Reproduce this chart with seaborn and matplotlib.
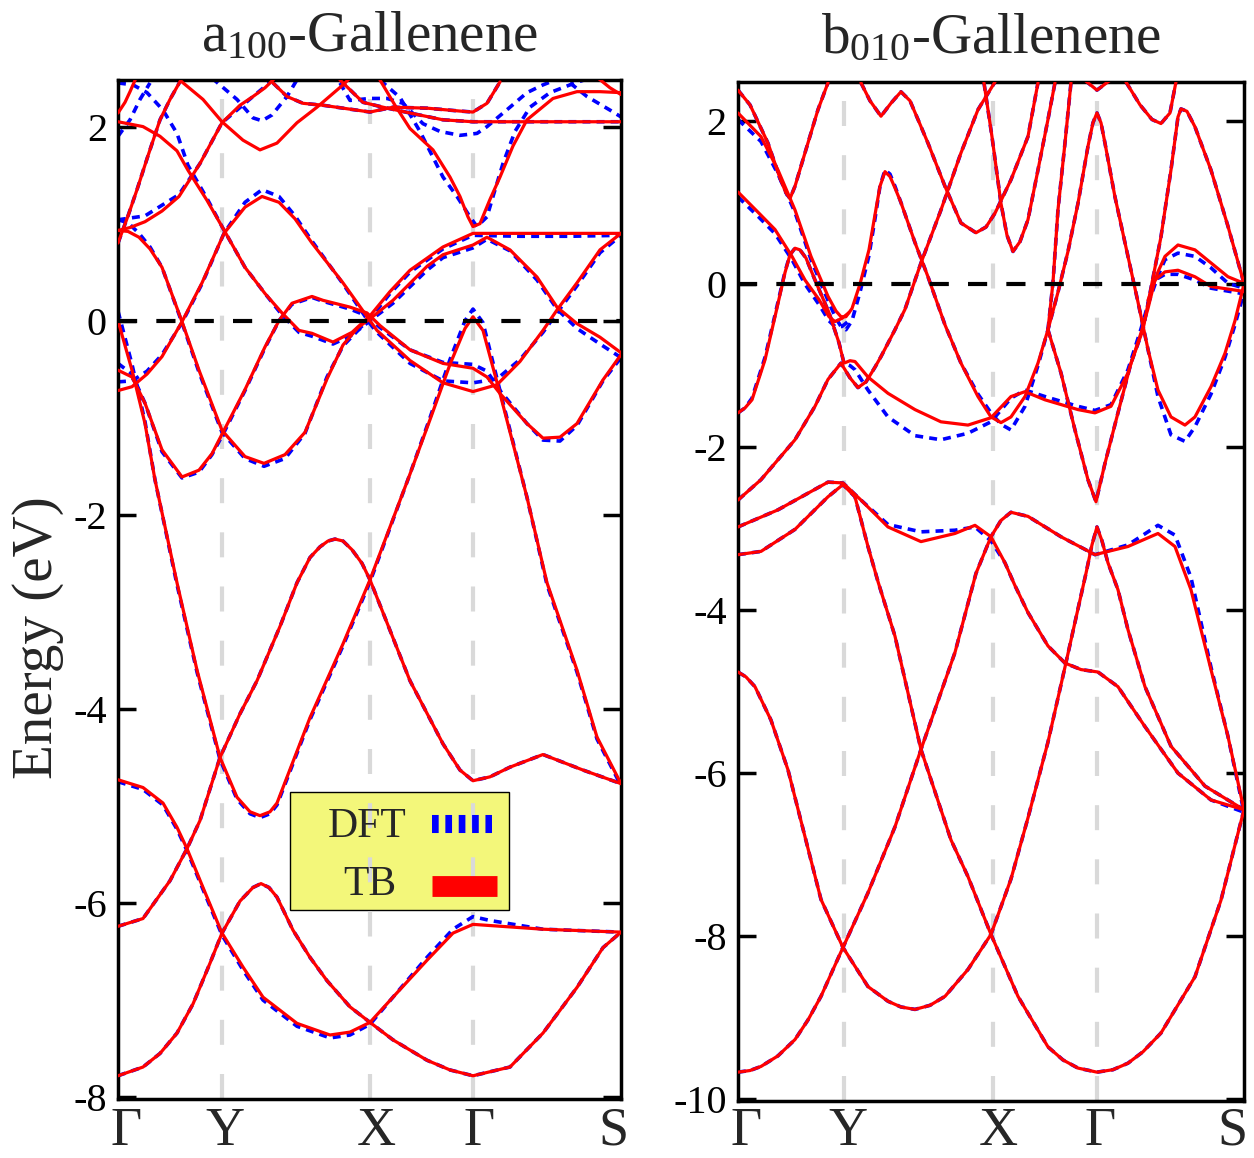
import pandas as pd
import matplotlib
matplotlib.use("Agg")
import matplotlib.pyplot as plt
import matplotlib.transforms as mtransforms
from matplotlib.patches import Rectangle
import seaborn as sns

# ---------------- k-path ----------------
A_KPTS = [0.0, 1.04, 2.52, 3.55, 5.03]
B_KPTS = [0.0, 1.06, 2.55, 3.59, 5.06]
KLABELS = ["Γ", "Y", "X", "Γ", "S"]
A_YTICKS = [-8, -6, -4, -2, 0, 2]
B_YTICKS = [-10, -8, -6, -4, -2, 0, 2]

# ---------------- a100-Gallenene, TB bands (k, E in eV) ----------------
a_tb_01 = [(0.00,-7.78),(0.25,-7.69),(0.42,-7.55),(0.59,-7.34),(0.75,-7.04),(0.92,-6.62),(1.04,-6.31),(1.22,-5.98),(1.35,-5.84),(1.43,-5.80),(1.51,-5.84),(1.59,-5.94),(1.75,-6.28),(1.92,-6.56),(2.09,-6.80),(2.32,-7.07),(2.52,-7.23),(2.75,-7.41),(3.09,-7.62),(3.32,-7.72),(3.55,-7.78),(3.92,-7.69),(4.25,-7.34),(4.59,-6.87),(4.85,-6.46),(5.03,-6.30)]
a_tb_02 = [(0.00,-4.73),(0.25,-4.81),(0.45,-4.97),(0.59,-5.22),(0.69,-5.44),(0.85,-5.84),(1.04,-6.31),(1.25,-6.66),(1.45,-6.97),(1.79,-7.24),(2.12,-7.36),(2.32,-7.33),(2.52,-7.23),(2.75,-6.97),(3.09,-6.59),(3.35,-6.31),(3.55,-6.22),(4.25,-6.27),(5.03,-6.30)]
a_tb_03 = [(0.00,-6.24),(0.25,-6.16),(0.52,-5.77),(0.69,-5.44),(0.82,-5.15),(1.02,-4.50),(1.22,-4.05),(1.39,-3.71),(1.62,-3.15),(1.79,-2.70),(1.92,-2.44),(2.02,-2.33),(2.10,-2.27),(2.17,-2.25),(2.25,-2.27),(2.34,-2.36),(2.44,-2.50),(2.52,-2.67),(2.72,-3.19),(2.92,-3.71),(3.25,-4.36),(3.42,-4.63),(3.55,-4.74),(3.72,-4.70),(3.92,-4.60),(4.25,-4.47),(4.65,-4.63),(5.03,-4.77)]
a_tb_04 = [(0.00,0.00),(0.14,-0.51),(0.27,-1.06),(0.37,-1.64),(0.48,-2.17),(0.59,-2.70),(0.79,-3.60),(1.02,-4.50),(1.19,-4.91),(1.32,-5.06),(1.42,-5.10),(1.52,-5.06),(1.59,-4.97),(1.92,-4.09),(2.25,-3.33),(2.52,-2.67),(2.92,-1.58),(3.12,-1.02),(3.32,-0.45),(3.47,-0.08),(3.55,0.04),(3.65,-0.10),(3.82,-0.75),(4.09,-1.82),(4.29,-2.70),(4.59,-3.60),(4.79,-4.29),(5.03,-4.77)]
a_tb_05 = [(0.00,0.93),(0.10,0.92),(0.21,0.86),(0.32,0.74),(0.44,0.55),(0.64,-0.01),(0.81,-0.51),(1.04,-1.13),(1.27,-1.40),(1.46,-1.47),(1.67,-1.38),(1.87,-1.15),(2.09,-0.60),(2.25,-0.25),(2.40,-0.07),(2.52,0.02),(2.75,0.21),(3.09,0.56),(3.25,0.68),(3.55,0.78),(3.69,0.86),(3.92,0.73),(4.19,0.45),(4.39,0.14),(4.59,-0.03),(4.82,-0.17),(5.03,-0.33)]
a_tb_06 = [(0.00,-0.72),(0.14,-0.68),(0.29,-0.55),(0.44,-0.37),(0.64,-0.01),(0.84,0.39),(1.06,0.90),(1.27,1.17),(1.44,1.28),(1.61,1.22),(1.77,1.05),(1.94,0.80),(2.25,0.39),(2.52,0.00),(2.59,-0.10),(2.92,-0.41),(3.25,-0.64),(3.55,-0.73),(3.79,-0.66),(4.02,-0.42),(4.25,-0.10),(4.39,0.11),(4.59,0.39),(4.82,0.73),(5.03,0.90)]
a_tb_07 = [(0.00,-0.51),(0.14,-0.58),(0.27,-0.85),(0.44,-1.33),(0.64,-1.61),(0.81,-1.54),(0.94,-1.37),(1.06,-1.13),(1.27,-0.71),(1.47,-0.27),(1.61,0.00),(1.74,0.18),(1.94,0.25),(2.05,0.21),(2.32,0.14),(2.49,0.08),(2.62,-0.05),(2.92,-0.30),(3.25,-0.44),(3.55,-0.49),(3.69,-0.58),(3.82,-0.75),(4.09,-1.06),(4.25,-1.21),(4.42,-1.20),(4.59,-1.06),(4.85,-0.61),(5.03,-0.35)]
a_tb_08 = [(0.00,2.05),(0.25,2.00),(0.42,1.90),(0.59,1.75),(0.70,1.55),(0.89,1.24),(1.04,0.97),(1.27,0.55),(1.47,0.28),(1.64,0.08),(1.81,-0.10),(1.94,-0.13),(2.15,-0.22),(2.34,-0.12),(2.52,0.05),(2.72,0.30),(2.92,0.52),(3.25,0.76),(3.55,0.90),(4.02,0.90),(4.52,0.90),(5.03,0.90)]
a_tb_09 = [(0.00,0.93),(0.12,0.96),(0.27,1.02),(0.44,1.13),(0.61,1.28),(0.82,1.62),(1.04,2.04),(1.22,2.22),(1.35,2.31),(1.47,2.40),(1.57,2.50)]
a_tb_10 = [(0.00,0.80),(0.10,1.08),(0.19,1.35),(0.30,1.70),(0.42,2.07),(0.52,2.28),(0.64,2.50)]
a_tb_11 = [(0.00,2.14),(0.07,2.25),(0.12,2.36),(0.18,2.50)]
a_tb_12 = [(0.64,2.46),(0.85,2.28),(1.04,2.05),(1.25,1.86),(1.42,1.76),(1.59,1.83),(1.79,2.04),(1.99,2.20),(2.25,2.43),(2.32,2.50)]
a_tb_13 = [(1.55,2.45),(1.69,2.31),(1.85,2.24),(2.05,2.22),(2.25,2.19),(2.52,2.15),(2.75,2.20),(3.09,2.19),(3.42,2.16),(3.55,2.15),(3.69,2.24),(3.82,2.46)]
a_tb_14 = [(2.22,2.48),(2.45,2.25),(2.65,2.20),(2.92,2.14),(3.25,2.07),(3.55,2.05),(4.22,2.05),(5.03,2.05)]
a_tb_15 = [(2.62,2.48),(2.77,2.22),(2.92,1.98),(3.15,1.76),(3.32,1.48),(3.42,1.28),(3.50,1.07),(3.55,0.97),(3.62,1.00),(3.72,1.25),(3.82,1.48),(3.95,1.80),(4.09,2.07),(4.35,2.29),(4.59,2.36),(4.82,2.36),(5.03,2.35)]
a_tb_16 = [(4.80,2.50),(4.92,2.40),(5.03,2.33)]

# ---------------- a100-Gallenene, DFT bands ----------------
a_dft_02 = [(0.00,-4.75),(0.25,-4.83),(0.45,-4.99),(0.59,-5.24),(0.69,-5.46),(0.85,-5.86),(1.04,-6.33),(1.25,-6.69),(1.45,-7.00),(1.79,-7.27),(2.12,-7.39),(2.32,-7.36),(2.52,-7.25),(2.75,-6.97),(3.09,-6.56),(3.35,-6.27),(3.55,-6.14),(3.72,-6.18),(4.25,-6.27),(5.03,-6.30)]
a_dft_04 = [(0.00,0.10),(0.14,-0.45),(0.27,-1.04),(0.37,-1.64),(0.48,-2.18),(0.59,-2.72),(0.79,-3.62),(1.02,-4.52),(1.19,-4.93),(1.32,-5.08),(1.42,-5.12),(1.52,-5.08),(1.59,-4.99),(1.92,-4.11),(2.25,-3.35),(2.52,-2.69),(2.92,-1.58),(3.12,-1.00),(3.32,-0.40),(3.47,0.00),(3.55,0.12),(3.65,-0.02),(3.82,-0.72),(4.09,-1.82),(4.29,-2.72),(4.59,-3.62),(4.79,-4.31),(5.03,-4.79)]
a_dft_05 = [(0.00,1.04),(0.10,1.01),(0.21,0.90),(0.32,0.76),(0.44,0.55),(0.64,-0.02),(0.81,-0.53),(1.04,-1.15),(1.27,-1.42),(1.46,-1.50),(1.67,-1.42),(1.87,-1.16),(2.09,-0.58),(2.25,-0.26),(2.40,-0.10),(2.52,0.00),(2.75,0.18),(3.09,0.52),(3.25,0.65),(3.55,0.75),(3.69,0.84),(3.92,0.72),(4.19,0.42),(4.39,0.12),(4.59,-0.08),(4.82,-0.24),(5.03,-0.38)]
a_dft_06 = [(0.00,-0.63),(0.14,-0.62),(0.29,-0.52),(0.44,-0.35),(0.64,-0.02),(0.84,0.38),(1.06,0.90),(1.27,1.22),(1.44,1.35),(1.61,1.28),(1.77,1.08),(1.94,0.82),(2.25,0.38),(2.52,-0.03),(2.59,-0.12),(2.92,-0.44),(3.25,-0.62),(3.55,-0.64),(3.79,-0.60),(4.02,-0.40),(4.25,-0.12),(4.39,0.08),(4.59,0.36),(4.82,0.70),(5.03,0.88)]
a_dft_07 = [(0.00,-0.44),(0.14,-0.55),(0.27,-0.85),(0.44,-1.35),(0.64,-1.62),(0.81,-1.56),(0.94,-1.38),(1.06,-1.15),(1.27,-0.72),(1.47,-0.28),(1.61,0.00),(1.74,0.17),(1.94,0.24),(2.05,0.20),(2.32,0.12),(2.49,0.05),(2.62,-0.07),(2.92,-0.30),(3.25,-0.43),(3.55,-0.45),(3.69,-0.52),(3.82,-0.72),(4.09,-1.06),(4.25,-1.23),(4.42,-1.24),(4.59,-1.08),(4.85,-0.62),(5.03,-0.38)]
a_dft_08 = [(0.00,2.45),(0.15,2.43),(0.29,2.35),(0.45,2.17),(0.59,1.93),(0.70,1.60),(0.89,1.26),(1.04,0.97),(1.27,0.55),(1.47,0.28),(1.64,0.06),(1.81,-0.12),(1.94,-0.16),(2.15,-0.24),(2.34,-0.15),(2.52,0.02),(2.72,0.28),(2.92,0.50),(3.25,0.74),(3.55,0.88),(4.02,0.87),(4.52,0.87),(5.03,0.88)]
a_dft_09 = [(0.00,1.04),(0.27,1.08),(0.61,1.30),(0.82,1.62),(1.04,2.04),(1.35,2.31),(1.57,2.50)]
a_dft_11 = [(0.00,1.90),(0.12,2.07),(0.22,2.28),(0.32,2.45)]
a_dft_12 = [(0.94,2.50),(1.19,2.28),(1.35,2.09),(1.44,2.06),(1.54,2.12),(1.69,2.31),(1.80,2.50)]
a_dft_15 = [(2.62,2.48),(2.82,2.30),(3.02,1.95),(3.25,1.48),(3.39,1.28),(3.52,1.07),(3.59,0.97),(3.69,1.07),(3.75,1.28),(3.85,1.62),(3.97,1.95),(4.12,2.20),(4.32,2.35),(4.57,2.45),(4.72,2.50)]
a_dft_17 = [(2.22,2.45),(2.32,2.27),(2.52,2.29),(2.69,2.29),(2.85,2.24),(3.05,2.03),(3.22,1.95),(3.42,1.91),(3.59,1.93),(3.69,2.00),(3.92,2.20),(4.09,2.35),(4.25,2.43),(4.42,2.50)]
a_dft_18 = [(4.52,2.45),(4.69,2.31),(4.92,2.17),(5.03,2.10)]

# ---------------- b010-Gallenene, TB bands ----------------
b_tb_01 = [(0.00,-9.67),(0.12,-9.65),(0.23,-9.60),(0.40,-9.47),(0.57,-9.27),(0.70,-9.03),(0.83,-8.74),(1.05,-8.14),(1.30,-7.47),(1.57,-6.66),(1.83,-5.71),(2.17,-4.52),(2.38,-3.55),(2.53,-3.10),(2.63,-2.90),(2.73,-2.80),(2.90,-2.85),(3.23,-3.10),(3.57,-3.32),(3.90,-3.22),(4.20,-3.06),(4.37,-3.22),(4.53,-3.75),(4.73,-4.73),(4.90,-5.55),(5.06,-6.45)]
b_tb_02 = [(0.00,-4.76),(0.08,-4.82),(0.17,-4.94),(0.33,-5.35),(0.50,-5.96),(0.67,-6.78),(0.83,-7.55),(1.05,-8.14),(1.30,-8.62),(1.50,-8.80),(1.63,-8.87),(1.77,-8.90),(1.92,-8.85),(2.07,-8.74),(2.30,-8.41),(2.53,-7.98),(2.73,-7.30),(2.90,-6.55),(3.10,-5.62),(3.27,-4.70),(3.37,-4.15),(3.48,-3.55),(3.54,-3.20),(3.59,-2.98),(3.64,-3.15),(3.70,-3.42),(3.80,-3.75),(3.90,-4.24),(4.07,-4.94),(4.33,-5.67),(4.67,-6.16),(5.06,-6.45)]
b_tb_03 = [(0.00,-3.32),(0.23,-3.28),(0.57,-3.01),(0.90,-2.61),(1.05,-2.46),(1.17,-2.61),(1.30,-3.22),(1.40,-3.65),(1.57,-4.32),(1.83,-5.71),(2.13,-6.82),(2.30,-7.27),(2.53,-7.98),(2.80,-8.74),(3.10,-9.36),(3.25,-9.52),(3.40,-9.62),(3.59,-9.67),(3.75,-9.64),(3.90,-9.56),(4.05,-9.42),(4.23,-9.19),(4.57,-8.50),(4.83,-7.56),(5.06,-6.45)]
b_tb_04 = [(0.00,-2.98),(0.40,-2.77),(0.90,-2.43),(1.05,-2.44),(1.23,-2.65),(1.50,-2.98),(1.83,-3.16),(2.17,-3.06),(2.37,-2.96),(2.53,-3.10),(2.67,-3.42),(2.77,-3.70),(2.90,-4.03),(3.10,-4.44),(3.27,-4.65),(3.43,-4.73),(3.60,-4.76),(3.80,-4.94),(4.07,-5.43),(4.40,-6.00),(4.73,-6.33),(5.06,-6.45)]
b_tb_05 = [(0.00,-2.65),(0.23,-2.40),(0.57,-1.91),(0.77,-1.50),(0.90,-1.17),(1.03,-0.97),(1.12,-1.15),(1.20,-1.27),(1.28,-1.20),(1.37,-1.02),(1.43,-0.89),(1.57,-0.56),(1.67,-0.31),(1.83,0.26),(2.03,0.91),(2.23,1.61),(2.40,2.14),(2.57,2.48)]
b_tb_06 = [(0.00,-1.58),(0.07,-1.52),(0.14,-1.42),(0.27,-0.93),(0.37,-0.40),(0.47,0.14),(0.52,0.36),(0.57,0.44),(0.62,0.42),(0.68,0.32),(0.77,0.05),(0.91,-0.35),(1.01,-0.72),(1.06,-0.97),(1.12,-0.94),(1.17,-0.95),(1.30,-1.14),(1.50,-1.34),(1.77,-1.54),(2.03,-1.69),(2.30,-1.73),(2.53,-1.64),(2.73,-1.38),(2.87,-1.32),(3.07,-1.42),(3.40,-1.54),(3.57,-1.58),(3.73,-1.50),(3.90,-1.09),(4.03,-0.60),(4.10,-0.30),(4.17,0.05),(4.27,0.15),(4.40,0.17),(4.57,0.09),(4.73,-0.03),(5.06,-0.09)]
b_tb_07 = [(0.00,2.10),(0.23,1.81),(0.40,1.40),(0.57,0.91),(0.73,0.34),(0.90,-0.15),(0.98,-0.33),(1.03,-0.40),(1.08,-0.40),(1.14,-0.30),(1.22,0.00),(1.31,0.42),(1.37,0.85),(1.42,1.20),(1.47,1.38),(1.52,1.32),(1.57,1.18),(1.63,1.00),(1.77,0.51),(1.90,0.09),(2.07,-0.50),(2.23,-0.97),(2.40,-1.38),(2.53,-1.63),(2.63,-1.70),(2.73,-1.63),(2.87,-1.38),(3.00,-0.97),(3.10,-0.56),(3.20,-0.10),(3.30,0.40),(3.40,0.99),(3.50,1.69),(3.55,1.98),(3.59,2.10),(3.63,1.98),(3.67,1.73),(3.77,1.07),(3.90,0.34),(4.00,-0.22),(4.10,-0.80),(4.20,-1.30),(4.33,-1.63),(4.47,-1.73),(4.57,-1.63),(4.73,-1.26),(4.87,-0.85),(4.97,-0.45),(5.06,0.00)]
b_tb_08 = [(0.00,2.38),(0.12,2.20),(0.30,1.73),(0.42,1.30),(0.48,1.12),(0.52,1.05),(0.57,1.20),(0.67,1.61),(0.80,2.14),(0.90,2.47)]
b_tb_09 = [(0.00,1.13),(0.21,0.87),(0.37,0.67),(0.54,0.34),(0.67,0.05),(0.81,-0.19),(0.91,-0.40),(0.97,-0.46),(1.04,-0.42),(1.11,-0.35)]
b_tb_10 = [(1.23,2.47),(1.32,2.25),(1.43,2.06),(1.53,2.22),(1.63,2.36),(1.72,2.25),(1.80,2.02),(1.90,1.73),(2.07,1.20),(2.23,0.75),(2.38,0.63),(2.48,0.70),(2.57,0.87),(2.73,1.28),(2.90,1.81),(3.00,2.47)]
b_tb_11 = [(2.46,2.47),(2.54,1.81),(2.63,0.99),(2.69,0.60),(2.75,0.40),(2.82,0.52),(2.90,0.79),(3.00,1.40),(3.10,2.02),(3.17,2.47)]
b_tb_12 = [(3.10,-0.56),(3.23,-1.09),(3.37,-1.79),(3.50,-2.40),(3.58,-2.67),(3.67,-2.20),(3.80,-1.58),(3.93,-0.97),(4.05,-0.56),(4.13,-0.05),(4.23,0.58),(4.33,1.40),(4.40,2.05),(4.43,2.15),(4.49,2.12),(4.57,1.93),(4.73,1.40),(4.90,0.71),(5.06,0.01)]
b_tb_13 = [(4.10,-0.20),(4.20,0.15),(4.27,0.34),(4.40,0.48),(4.57,0.42),(4.73,0.26),(4.90,0.09),(5.06,0.01)]
b_tb_14 = [(3.88,2.48),(4.02,2.20),(4.14,2.02),(4.23,1.97),(4.32,2.10),(4.38,2.48)]
b_tb_15 = [(3.47,2.50),(3.59,2.38),(3.72,2.50)]
b_tb_16 = [(3.10,-0.56),(3.15,0.02),(3.20,0.91),(3.27,1.73),(3.33,2.47)]

# ---------------- b010-Gallenene, DFT bands ----------------
b_dft_01 = [(0.00,-9.67),(0.12,-9.65),(0.23,-9.60),(0.40,-9.47),(0.57,-9.27),(0.70,-9.03),(0.83,-8.74),(1.05,-8.14),(1.30,-7.47),(1.57,-6.66),(1.83,-5.71),(2.17,-4.52),(2.38,-3.55),(2.53,-3.10),(2.63,-2.90),(2.73,-2.80),(2.90,-2.85),(3.23,-3.10),(3.57,-3.32),(3.90,-3.20),(4.20,-2.96),(4.37,-3.08),(4.53,-3.60),(4.73,-4.70),(4.90,-5.55),(5.06,-6.48)]
b_dft_04 = [(0.00,-2.98),(0.40,-2.77),(0.90,-2.43),(1.05,-2.44),(1.23,-2.65),(1.50,-2.95),(1.83,-3.04),(2.17,-3.02),(2.37,-2.98),(2.53,-3.15),(2.67,-3.42),(2.77,-3.70),(2.90,-4.03),(3.10,-4.44),(3.27,-4.65),(3.43,-4.73),(3.60,-4.76),(3.80,-4.94),(4.07,-5.43),(4.40,-6.00),(4.73,-6.33),(5.06,-6.48)]
b_dft_06 = [(0.00,-1.58),(0.07,-1.52),(0.14,-1.40),(0.27,-0.90),(0.37,-0.38),(0.47,0.15),(0.52,0.36),(0.57,0.44),(0.62,0.42),(0.68,0.32),(0.77,0.05),(0.91,-0.35),(1.01,-0.72),(1.06,-0.97),(1.12,-1.00),(1.17,-1.05),(1.30,-1.30),(1.50,-1.63),(1.77,-1.86),(2.03,-1.91),(2.30,-1.83),(2.53,-1.69),(2.73,-1.40),(2.87,-1.30),(3.07,-1.38),(3.40,-1.50),(3.57,-1.55),(3.73,-1.48),(3.90,-1.05),(4.03,-0.55),(4.10,-0.25),(4.17,0.05),(4.27,0.12),(4.40,0.12),(4.57,0.05),(4.73,-0.05),(5.06,-0.12)]
b_dft_07 = [(0.00,2.02),(0.23,1.75),(0.40,1.35),(0.57,0.88),(0.73,0.30),(0.90,-0.20),(0.98,-0.42),(1.03,-0.52),(1.08,-0.56),(1.14,-0.45),(1.22,-0.10),(1.31,0.35),(1.37,0.80),(1.42,1.20),(1.47,1.40),(1.52,1.35),(1.57,1.20),(1.63,1.00),(1.77,0.51),(1.90,0.09),(2.07,-0.50),(2.23,-0.97),(2.40,-1.35),(2.53,-1.58),(2.63,-1.72),(2.73,-1.79),(2.87,-1.50),(3.00,-1.00),(3.10,-0.56),(3.20,-0.10),(3.30,0.40),(3.40,0.99),(3.50,1.69),(3.55,1.98),(3.59,2.10),(3.63,1.98),(3.67,1.73),(3.77,1.07),(3.90,0.34),(4.00,-0.22),(4.10,-0.80),(4.20,-1.38),(4.33,-1.85),(4.47,-1.93),(4.57,-1.75),(4.73,-1.35),(4.87,-0.90),(4.97,-0.50),(5.06,-0.10)]
b_dft_09 = [(0.00,1.07),(0.21,0.82),(0.37,0.62),(0.54,0.30),(0.67,0.00),(0.81,-0.25),(0.91,-0.45),(0.97,-0.52),(1.04,-0.52),(1.11,-0.45)]
b_dft_13 = [(4.10,-0.25),(4.20,0.10),(4.27,0.30),(4.40,0.38),(4.57,0.34),(4.73,0.20),(4.90,0.01),(5.06,-0.05)]

A_TB = {"01": a_tb_01, "02": a_tb_02, "03": a_tb_03, "04": a_tb_04, "05": a_tb_05,
        "06": a_tb_06, "07": a_tb_07, "08": a_tb_08, "09": a_tb_09, "10": a_tb_10,
        "11": a_tb_11, "12": a_tb_12, "13": a_tb_13, "14": a_tb_14, "15": a_tb_15,
        "16": a_tb_16}
A_DFT = {"01": a_tb_01, "02": a_dft_02, "03": a_tb_03, "04": a_dft_04, "05": a_dft_05,
         "06": a_dft_06, "07": a_dft_07, "08": a_dft_08, "09": a_dft_09, "10": a_tb_10,
         "11": a_dft_11, "12": a_dft_12, "13": a_tb_13, "14": a_tb_14, "15": a_dft_15,
         "17": a_dft_17, "18": a_dft_18}
B_TB = {"01": b_tb_01, "02": b_tb_02, "03": b_tb_03, "04": b_tb_04, "05": b_tb_05,
        "06": b_tb_06, "07": b_tb_07, "08": b_tb_08, "09": b_tb_09, "10": b_tb_10,
        "11": b_tb_11, "12": b_tb_12, "13": b_tb_13, "14": b_tb_14, "15": b_tb_15,
        "16": b_tb_16}
B_DFT = {"01": b_dft_01, "02": b_tb_02, "03": b_tb_03, "04": b_dft_04, "05": b_tb_05,
         "06": b_dft_06, "07": b_dft_07, "08": b_tb_08, "09": b_dft_09, "10": b_tb_10,
         "11": b_tb_11, "12": b_tb_12, "13": b_dft_13, "14": b_tb_14, "15": b_tb_15,
         "16": b_tb_16}


def to_frame(bands):
    rows = [(name, k, e) for name, pts in bands.items() for k, e in pts]
    return pd.DataFrame(rows, columns=["band", "k", "E"])


sns.set_theme(style="white")
plt.rcParams["font.family"] = ["Liberation Serif", "DejaVu Serif"]
plt.rcParams["mathtext.fontset"] = "custom"
plt.rcParams["mathtext.rm"] = "Liberation Serif"
plt.rcParams["mathtext.it"] = "Liberation Serif:italic"
plt.rcParams["axes.unicode_minus"] = False

fig = plt.figure(figsize=(12.54, 11.58), dpi=100)
ax_a = fig.add_axes([0.0941, 0.0509, 0.4011, 0.8800])
ax_b = fig.add_axes([0.5885, 0.0495, 0.4035, 0.8797])


def draw_panel(ax, tb, dft, kpts, ylim, yticks, title, label_dx, label_pad):
    for x in kpts[1:-1]:
        ax.axvline(x, color="#d9d9d9", lw=3, dashes=(6, 7), zorder=1.5)
    sns.lineplot(data=to_frame(dft), x="k", y="E", units="band", estimator=None,
                 sort=False, color="#0000ff", linewidth=2.6,
                 linestyle=(0, (2.2, 1.7)), ax=ax, legend=False, zorder=2)
    sns.lineplot(data=to_frame(tb), x="k", y="E", units="band", estimator=None,
                 sort=False, color="#ff0000", linewidth=2.3, ax=ax,
                 legend=False, zorder=3)
    ax.axhline(0, color="black", lw=3, dashes=(4.6, 4.6), zorder=4)

    ax.set_xlim(kpts[0], kpts[-1])
    ax.set_ylim(*ylim)
    ax.set_xlabel("")
    ax.set_ylabel("")
    ax.set_xticks(kpts)
    ax.set_xticklabels(KLABELS, fontsize=39)
    ax.tick_params(axis="x", length=0, pad=label_pad)
    ax.set_yticks(yticks)
    ax.set_yticklabels([str(v) for v in yticks])
    ax.tick_params(axis="y", direction="in", length=13, width=2.5,
                   left=True, right=True, labelsize=29, pad=8, colors="black")
    for sp in ax.spines.values():
        sp.set_linewidth(2.5)
        sp.set_color("black")
    for lab, dx in zip(ax.get_xticklabels(), label_dx):
        lab.set_transform(lab.get_transform() +
                          mtransforms.ScaledTranslation(dx / 100.0, 0, fig.dpi_scale_trans))
    ax.set_title(title, fontsize=41, pad=21)


draw_panel(ax_a, A_TB, A_DFT, A_KPTS, (-8.02, 2.48), A_YTICKS,
           r"a$_{100}$-Gallenene", [8, 3, 6, 6, -8], 5)
draw_panel(ax_b, B_TB, B_DFT, B_KPTS, (-10.02, 2.48), B_YTICKS,
           r"b$_{010}$-Gallenene", [8, 4, 5, 3, -12], 4)

ax_a.set_ylabel("Energy (eV)", fontsize=41)
ax_a.yaxis.set_label_coords(-0.107, 0.453)

# key box for the two methods
ax_a.add_patch(Rectangle((0.342, 0.1855), 0.435, 0.1158, transform=ax_a.transAxes,
                         facecolor="#f3f77a", edgecolor="black", lw=1.0, zorder=1.2))
ax_a.text(0.496, 0.257, "DFT", transform=ax_a.transAxes, ha="center",
          va="baseline", fontsize=30, zorder=6)
ax_a.text(0.501, 0.200, "TB", transform=ax_a.transAxes, ha="center",
          va="baseline", fontsize=30, zorder=6)
ax_a.plot([0.624, 0.744], [0.270, 0.270], transform=ax_a.transAxes,
          color="#0000ff", lw=13, dashes=(0.37, 0.37), solid_capstyle="butt",
          dash_capstyle="butt", zorder=6)
ax_a.plot([0.624, 0.753], [0.2095, 0.2095], transform=ax_a.transAxes,
          color="#ff0000", lw=15, solid_capstyle="butt", zorder=6)

fig.savefig("out.png", dpi=100)
